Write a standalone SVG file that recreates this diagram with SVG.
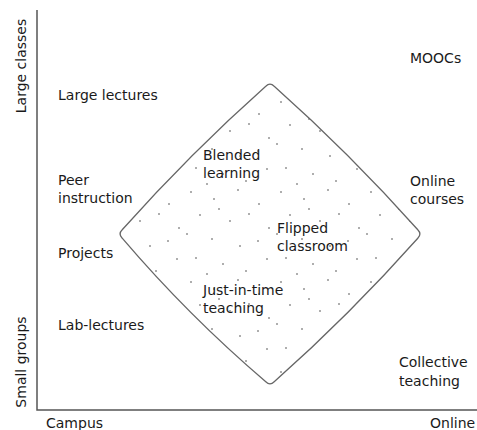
<svg xmlns="http://www.w3.org/2000/svg" width="477" height="430" viewBox="0 0 477 430">
  <style>
    text { font-family: "DejaVu Sans", "Liberation Sans", sans-serif; font-size: 14px; fill: #1a1a1a; }
    .axis { stroke: #555; stroke-width: 1.5; fill: none; }
    .region { stroke: #666; stroke-width: 1.3; }
  </style>
  <defs>
    <!-- irregular dot texture for the hybrid region -->
    <pattern id="dots" width="90" height="90" patternUnits="userSpaceOnUse" x="3" y="7">
      <g fill="#333">
        <circle cx="8" cy="5" r="0.75"/>
        <circle cx="31" cy="12" r="0.75"/>
        <circle cx="55" cy="3" r="0.75"/>
        <circle cx="76" cy="17" r="0.75"/>
        <circle cx="17" cy="28" r="0.75"/>
        <circle cx="47" cy="34" r="0.75"/>
        <circle cx="66" cy="27" r="0.75"/>
        <circle cx="86" cy="41" r="0.75"/>
        <circle cx="4" cy="47" r="0.75"/>
        <circle cx="29" cy="52" r="0.75"/>
        <circle cx="57" cy="59" r="0.75"/>
        <circle cx="75" cy="54" r="0.75"/>
        <circle cx="13" cy="71" r="0.75"/>
        <circle cx="40" cy="77" r="0.75"/>
        <circle cx="63" cy="84" r="0.75"/>
        <circle cx="84" cy="72" r="0.75"/>
        <circle cx="24" cy="87" r="0.75"/>
        <circle cx="36" cy="22" r="0.75"/>
      </g>
    </pattern>
  </defs>

  <!-- axes -->
  <g id="axes">
    <path class="axis" d="M37 10 V410 H477"/>
  </g>

  <!-- axis labels -->
  <g id="axis-labels">
    <text transform="translate(26,66) rotate(-90)" text-anchor="middle">Large classes</text>
    <text transform="translate(26,362) rotate(-90)" text-anchor="middle">Small groups</text>
    <text x="46" y="428">Campus</text>
    <text x="430" y="428">Online</text>
  </g>

  <!-- hybrid region: rounded diamond with slightly bowed sides -->
  <g id="hybrid-region">
    <path class="region" fill="url(#dots)" d="M274.2 86.2 Q350.2 153.8 417.8 229.8 Q422 234 417.8 238.2 Q350.2 314.2 274.2 381.8 Q270 386 265.8 381.8 Q188.3 315.7 122.2 238.2 Q118 234 122.2 229.8 Q189.8 153.8 265.8 86.2 Q270 82 274.2 86.2 Z"/>
  </g>

  <!-- campus formats -->
  <g id="large-lectures"><text x="58" y="100">Large lectures</text></g>
  <g id="peer-instruction"><text x="58" y="185">Peer</text><text x="58" y="203">instruction</text></g>
  <g id="projects"><text x="58" y="258">Projects</text></g>
  <g id="lab-lectures"><text x="58" y="330">Lab-lectures</text></g>

  <!-- hybrid formats -->
  <g id="blended-learning"><text x="203" y="160">Blended</text><text x="203" y="178">learning</text></g>
  <g id="flipped-classroom"><text x="277" y="233">Flipped</text><text x="277" y="251">classroom</text></g>
  <g id="just-in-time"><text x="203" y="295">Just-in-time</text><text x="203" y="313">teaching</text></g>

  <!-- online formats -->
  <g id="moocs"><text x="410" y="63">MOOCs</text></g>
  <g id="online-courses"><text x="410" y="186">Online</text><text x="410" y="204">courses</text></g>
  <g id="collective-teaching"><text x="399" y="367">Collective</text><text x="399" y="386">teaching</text></g>
</svg>
